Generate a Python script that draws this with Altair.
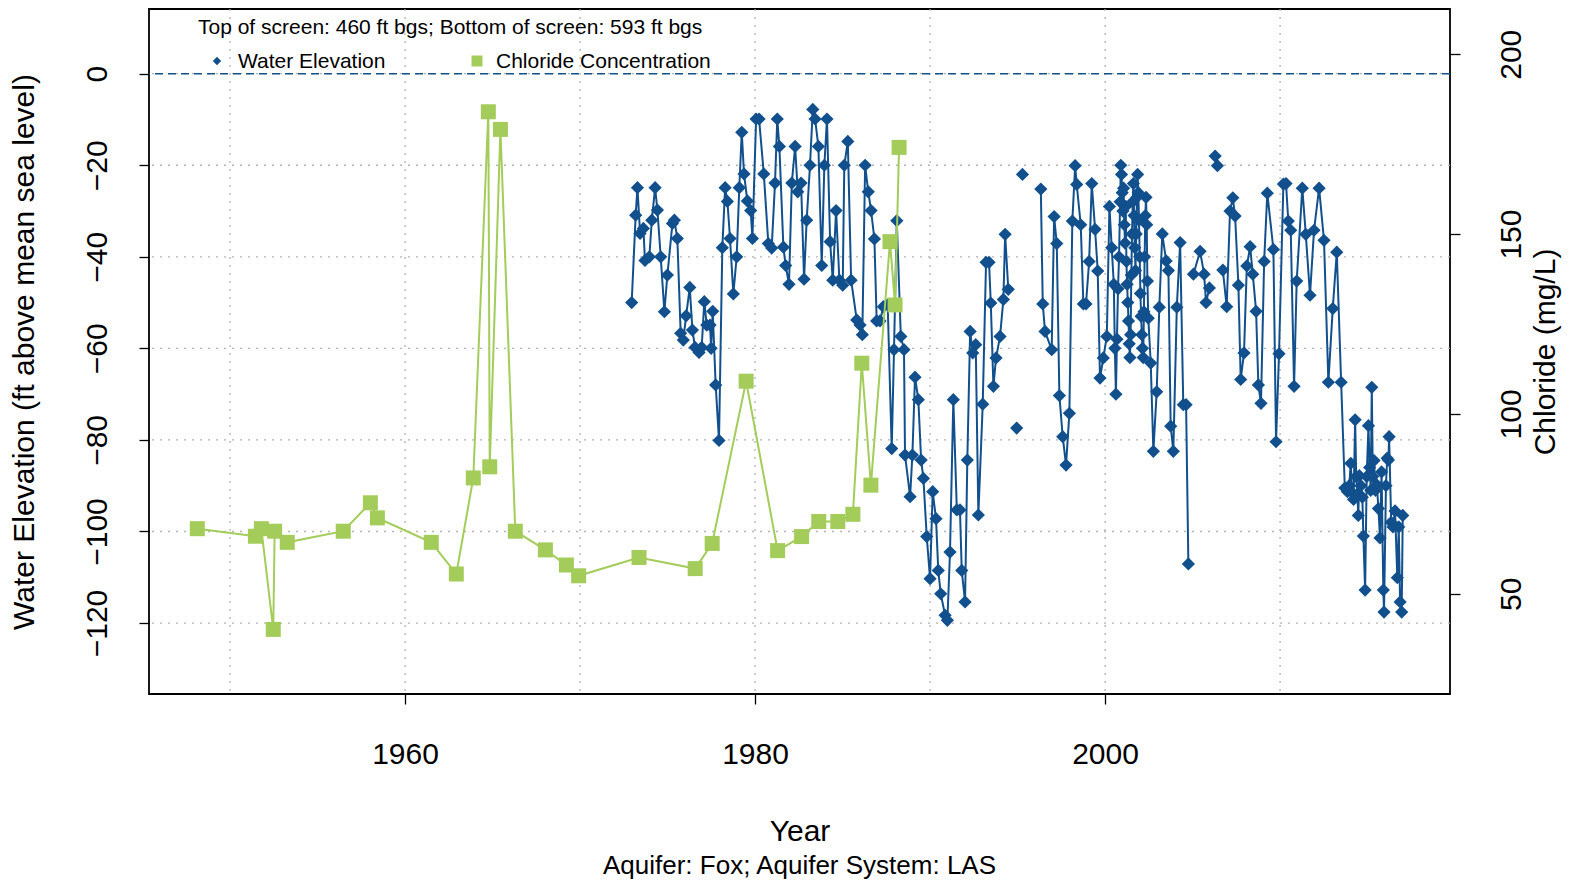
import altair as alt
import pandas as pd

# ---------------- data ----------------
wl_year = [
    1972.95, 1973.18, 1973.28, 1973.43, 1973.62, 1973.71, 1973.96, 1974.10, 1974.29, 1974.42,
    1974.61, 1974.82, 1974.99, 1975.28, 1975.39, 1975.56, 1975.75, 1975.90, 1976.06, 1976.27,
    1976.42, 1976.57, 1976.80, 1976.95, 1977.10, 1977.24, 1977.43, 1977.49, 1977.58, 1977.75,
    1977.94, 1978.13, 1978.29, 1978.42, 1978.57, 1978.76, 1978.95, 1979.10, 1979.24, 1979.37,
    1979.56, 1979.75, 1979.85, 1980.06, 1980.23, 1980.50, 1980.76, 1980.95, 1981.14, 1981.27,
    1981.39, 1981.62, 1981.75, 1981.94, 1982.10, 1982.29, 1982.44, 1982.63, 1982.80, 1982.95,
    1983.14, 1983.30, 1983.43, 1983.62, 1983.81, 1983.96, 1984.11, 1984.29, 1984.44, 1984.63,
    1984.82, 1985.01, 1985.10, 1985.30, 1985.49, 1985.81, 1986.00, 1986.13, 1986.29, 1986.47,
    1986.63, 1986.82, 1986.95, 1987.14, 1987.33, 1987.58, 1987.81, 1987.94, 1988.10, 1988.33,
    1988.51, 1988.57, 1988.86, 1988.99, 1989.14, 1989.33, 1989.49, 1989.62, 1989.81, 1990.00,
    1990.15, 1990.34, 1990.47, 1990.61, 1990.86, 1990.99, 1991.14, 1991.33, 1991.53, 1991.71,
    1991.81, 1992.00, 1992.13, 1992.29, 1992.44, 1992.61, 1992.76, 1993.01, 1993.20, 1993.37,
    1993.47, 1993.62, 1993.77, 1994.00, 1994.19, 1994.29, 1994.47,
    1994.95,
    1995.28,
    1996.33, 1996.44, 1996.57, 1996.95, 1997.09, 1997.24, 1997.39, 1997.58, 1997.77, 1997.96,
    1998.13, 1998.29, 1998.38, 1998.61, 1998.76, 1998.91, 1999.09, 1999.24, 1999.43, 1999.58,
    1999.71, 1999.90, 2000.10, 2000.25, 2000.38,
    2000.50, 2000.56, 2000.62, 2000.68, 2000.74, 2000.80, 2000.86, 2000.90, 2000.94, 2000.98,
    2001.02, 2001.06, 2001.10, 2001.14, 2001.18, 2001.22, 2001.26, 2001.30, 2001.34, 2001.38,
    2001.42, 2001.46, 2001.50, 2001.54, 2001.58, 2001.62, 2001.66, 2001.70, 2001.74, 2001.78,
    2001.82, 2001.86, 2001.90, 2001.94, 2001.98, 2002.02, 2002.06, 2002.10, 2002.14, 2002.18,
    2002.22, 2002.26, 2002.30, 2002.34, 2002.38, 2002.42,
    2002.47, 2002.61, 2002.76, 2002.95, 2003.10, 2003.27, 2003.49, 2003.62, 2003.75, 2003.90,
    2004.10, 2004.29, 2004.47, 2004.63, 2004.76,
    2005.05, 2005.43, 2005.66, 2005.77, 2005.96,
    2006.29, 2006.42,
    2006.73, 2006.95, 2007.14, 2007.30, 2007.43, 2007.62, 2007.75, 2007.94, 2008.10, 2008.29,
    2008.44, 2008.63, 2008.76, 2008.91, 2009.09, 2009.27, 2009.62, 2009.77, 2009.94, 2010.19,
    2010.34, 2010.47, 2010.61, 2010.80, 2010.95, 2011.27, 2011.47, 2011.71, 2011.94, 2012.23,
    2012.51, 2012.76, 2013.01, 2013.24, 2013.49, 2013.70, 2013.85, 2013.95, 2014.04, 2014.12,
    2014.20, 2014.29, 2014.35, 2014.42, 2014.47, 2014.53, 2014.62, 2014.70, 2014.76, 2014.86,
    2014.95, 2015.05, 2015.12, 2015.18, 2015.24, 2015.30, 2015.37, 2015.45, 2015.53, 2015.62,
    2015.71, 2015.80, 2015.90, 2015.94, 2016.05, 2016.12, 2016.19, 2016.23, 2016.35, 2016.45,
    2016.57, 2016.70, 2016.78, 2016.86, 2016.95, 2017.01,
]
wl_elev = [
    -50.0, -30.9, -24.9, -34.9, -33.8, -40.8, -40.0, -32.0, -24.9, -29.8,
    -40.0, -52.0, -44.0, -32.7, -32.0, -36.0, -56.7, -58.2, -52.9, -46.7,
    -56.0, -59.8, -60.9, -59.8, -49.8, -54.9, -54.9, -60.0, -51.9, -68.0,
    -80.1, -38.0, -24.9, -27.9, -36.0, -48.1, -40.0, -24.9, -12.8, -21.9,
    -27.8, -29.9, -36.0, -9.9, -9.9, -21.9, -37.1, -38.1, -23.9, -9.9,
    -15.9, -37.9, -41.9, -46.0, -23.9, -15.9, -25.8, -23.9, -44.9, -32.0,
    -20.0, -7.8, -9.9, -15.9, -41.9, -20.0, -9.9, -36.7, -45.1, -29.9,
    -45.1, -46.2, -20.0, -14.8, -45.1, -53.8, -54.9, -57.0, -20.0, -25.8,
    -29.9, -36.1, -54.0, -54.0, -50.9, -50.5, -81.9, -60.3, -32.1, -57.4,
    -60.3, -83.3, -92.4, -83.3, -66.3, -71.2, -84.4, -88.4, -101.1, -110.3,
    -91.3, -97.2, -108.5, -113.6, -118.3, -119.4, -104.5, -71.2, -95.3, -95.3,
    -108.5, -115.4, -84.4, -56.3, -61.0, -59.2, -96.4, -72.2, -41.2, -41.2,
    -50.1, -68.3, -62.1, -57.4, -49.3, -35.1, -47.1,
    -77.4,
    -22.0,
    -25.2, -50.3, -56.3, -60.3, -31.2, -37.1, -70.3, -79.3, -85.5, -74.2,
    -32.2, -20.1, -24.2, -33.0, -50.3, -50.3, -41.0, -24.0, -34.0, -43.1,
    -66.5, -62.1, -57.4, -29.0, -38.0,
    -46.0, -60.0, -70.0, -58.0, -47.0, -40.0, -28.0, -20.0, -22.0, -26.0,
    -30.0, -25.0, -33.0, -37.0, -29.0, -41.0, -46.0, -50.0, -54.0, -59.0,
    -62.0, -57.0, -44.0, -35.0, -28.0, -24.0, -31.0, -38.0, -43.0, -35.0,
    -27.0, -22.0, -26.0, -32.0, -40.0, -48.0, -53.0, -57.0, -60.0, -62.0,
    -52.0, -40.0, -31.0, -27.0, -33.0, -45.3,
    -53.4, -63.2, -82.5, -69.5, -51.0, -35.0, -40.9, -43.0, -77.0, -82.5,
    -51.0, -36.9, -72.3, -72.3, -107.1,
    -43.8, -38.8, -43.8, -50.0, -46.8,
    -18.0, -20.1,
    -42.9, -50.9, -30.0, -27.1, -31.1, -46.2, -66.8, -61.0, -42.0, -37.8,
    -43.8, -51.9, -68.0, -72.0, -41.0, -26.1, -38.4, -80.4, -61.2, -24.1,
    -24.0, -32.2, -34.2, -68.3, -45.3, -25.0, -35.1, -48.4, -34.2, -25.0,
    -36.4, -67.4, -51.3, -39.0, -67.4, -90.5, -91.3, -90.0, -85.1, -91.5,
    -93.0, -75.6, -88.0, -91.9, -96.5, -87.8, -90.0, -92.5, -101.0, -112.8,
    -88.0, -76.9, -86.0, -91.0, -68.5, -88.0, -84.5, -91.0, -89.8, -95.0,
    -101.4, -87.0, -112.8, -117.6, -90.0, -84.0, -84.4, -79.3, -98.0, -99.0,
    -95.5, -110.1, -99.0, -115.4, -117.6, -96.5,
]
# run number of each measurement (gaps in the record break the line)
wl_seg = ([1] * 127 + [2] + [3] + [4] * 25 + [4] * 46 + [4] * 15 + [5] * 5 + [6] * 2 + [7] * 76)

cl_year = [
    1948.13, 1951.45, 1951.79, 1952.47, 1952.55, 1953.27, 1956.47, 1958.02, 1958.42, 1961.50,
    1962.93, 1963.90, 1964.76, 1964.84, 1965.45, 1966.30, 1968.02, 1969.22, 1969.92, 1973.37,
    1976.58, 1977.55, 1979.49, 1981.29, 1982.66, 1983.64, 1984.73, 1985.59, 1986.10, 1986.62,
    1987.71, 1988.00, 1988.23,
]
cl_value = [
    68.1, 66.0, 68.1, 40.1, 67.4, 64.3, 67.4, 75.3, 71.1, 64.3,
    55.5, 82.2, 184.0, 85.3, 179.1, 67.4, 62.2, 58.0, 55.0, 60.1,
    57.0, 64.0, 109.1, 62.0, 65.9, 70.1, 70.1, 72.1, 114.1, 80.2,
    147.9, 130.3, 174.1,
]

x_grid = [1950, 1960, 1970, 1980, 1990, 2000, 2010]
y_grid = [-120, -100, -80, -60, -40, -20, 0]
x_ticks = [1960, 1980, 2000]
left_ticks = [-120, -100, -80, -60, -40, -20, 0]
right_ticks = [50, 100, 150, 200]
ref_level = [0]

screen_text = ["Top of screen: 460 ft bgs; Bottom of screen: 593 ft bgs"]
legend_labels = ["Water Elevation", "Chloride Concentration"]
caption = ["Aquifer: Fox; Aquifer System: LAS"]

# ---------------- style ----------------
BLUE = "#11508c"
GREEN = "#a3cc5a"
GRID = "#b4b4b4"
FONT = "Liberation Sans"
W, H = 1301, 685

xs = alt.Scale(domain=[1945.37, 2019.71], nice=False, zero=False)
yl = alt.Scale(domain=[-135.5, 14.13], nice=False, zero=False)
yr = alt.Scale(domain=[22.14, 212.57], nice=False, zero=False)

x_axis = alt.Axis(
    values=x_ticks, format="d", title="Year", grid=False, domain=False,
    labelFont=FONT, labelFontSize=30, labelColor="black", labelBaseline="top",
    labelPadding=35, tickSize=10, tickColor="black", tickWidth=1.3,
    titleFont=FONT, titleFontSize=30, titleFontWeight="normal", titleColor="black",
    titleX=W / 2, titleY=137, titleAlign="center", titleBaseline="middle",
)
left_axis = alt.Axis(
    values=left_ticks, title="Water Elevation (ft above mean sea level)", grid=False,
    domain=False, orient="left",
    labelFont=FONT, labelFontSize=30, labelColor="black", labelAngle=270,
    labelAlign="center", labelBaseline="alphabetic", labelPadding=33,
    tickSize=10, tickColor="black", tickWidth=1.3,
    titleFont=FONT, titleFontSize=30, titleFontWeight="normal", titleColor="black",
    titleAngle=270, titleX=-125, titleY=H / 2, titleAlign="center", titleBaseline="middle",
)
right_axis = alt.Axis(
    values=right_ticks, title="Chloride (mg/L)", grid=False, domain=False, orient="right",
    labelFont=FONT, labelFontSize=30, labelColor="black", labelAngle=270,
    labelAlign="center", labelBaseline="top", labelPadding=36,
    tickSize=10, tickColor="black", tickWidth=1.3,
    titleFont=FONT, titleFontSize=30, titleFontWeight="normal", titleColor="black",
    titleAngle=270, titleX=95, titleY=H / 2, titleAlign="center", titleBaseline="middle",
)

wl = pd.DataFrame({"year": wl_year, "elev": wl_elev, "seg": wl_seg})
cl = pd.DataFrame({"year": cl_year, "chloride": cl_value})

X = alt.X("year:Q", scale=xs, axis=x_axis)
YL = alt.Y("elev:Q", scale=yl, axis=left_axis)

xgrid = alt.Chart(pd.DataFrame({"g": x_grid})).mark_rule(
    color=GRID, strokeDash=[2, 6], strokeWidth=1.3
).encode(x=alt.X("g:Q", scale=xs, axis=x_axis))

ygrid = alt.Chart(pd.DataFrame({"g": y_grid})).mark_rule(
    color=GRID, strokeDash=[2, 6], strokeWidth=1.3
).encode(y=alt.Y("g:Q", scale=yl, axis=left_axis))

zero = alt.Chart(pd.DataFrame({"v": ref_level})).mark_rule(
    color=BLUE, strokeDash=[8, 5], strokeWidth=1.6
).encode(y=alt.Y("v:Q", scale=yl, axis=left_axis))

wl_line = alt.Chart(wl).mark_line(color=BLUE, strokeWidth=2).encode(
    x=X, y=YL, detail="seg:N"
)
wl_pts = alt.Chart(wl).mark_point(
    shape="diamond", filled=True, size=175, color=BLUE, opacity=1, strokeWidth=0
).encode(x=X, y=YL)

top_txt = alt.Chart(pd.DataFrame({"t": screen_text})).mark_text(
    font=FONT, fontSize=21, align="left", baseline="middle", color="black"
).encode(x=alt.value(49), y=alt.value(19), text="t:N")

leg_d = alt.Chart(pd.DataFrame({"t": [legend_labels[0]]})).mark_point(
    shape="diamond", filled=True, size=70, color=BLUE, opacity=1, strokeWidth=0
).encode(x=alt.value(68), y=alt.value(52))
leg_s = alt.Chart(pd.DataFrame({"t": [legend_labels[1]]})).mark_point(
    shape="square", filled=True, size=120, color=GREEN, opacity=1, strokeWidth=0
).encode(x=alt.value(328), y=alt.value(52))
leg_t1 = alt.Chart(pd.DataFrame({"t": [legend_labels[0]]})).mark_text(
    font=FONT, fontSize=21, align="left", baseline="middle", color="black"
).encode(x=alt.value(89), y=alt.value(53), text="t:N")
leg_t2 = alt.Chart(pd.DataFrame({"t": [legend_labels[1]]})).mark_text(
    font=FONT, fontSize=21, align="left", baseline="middle", color="black"
).encode(x=alt.value(347), y=alt.value(53), text="t:N")

cap_txt = alt.Chart(pd.DataFrame({"t": caption})).mark_text(
    font=FONT, fontSize=26, align="center", baseline="middle", color="black"
).encode(x=alt.value(W / 2), y=alt.value(857), text="t:N")

left = alt.layer(xgrid, ygrid, zero, wl_line, wl_pts, top_txt, leg_d, leg_s, leg_t1, leg_t2, cap_txt)

YR = alt.Y("chloride:Q", scale=yr, axis=right_axis)
cl_line = alt.Chart(cl).mark_line(color=GREEN, strokeWidth=2).encode(x=X, y=YR)
cl_pts = alt.Chart(cl).mark_point(
    shape="square", filled=True, size=225, color=GREEN, opacity=1, strokeWidth=0
).encode(x=X, y=YR)
right = alt.layer(cl_line, cl_pts)

chart = alt.layer(left, right).resolve_scale(y="independent").properties(
    width=W, height=H,
    padding={"left": 141, "top": 1, "right": 117, "bottom": 185},
    autosize=alt.AutoSizeParams(type="none"),
    background="white",
).configure_view(stroke="black", strokeWidth=1.8)

chart.save("out.html", embed_options={"renderer": "svg", "actions": False})
